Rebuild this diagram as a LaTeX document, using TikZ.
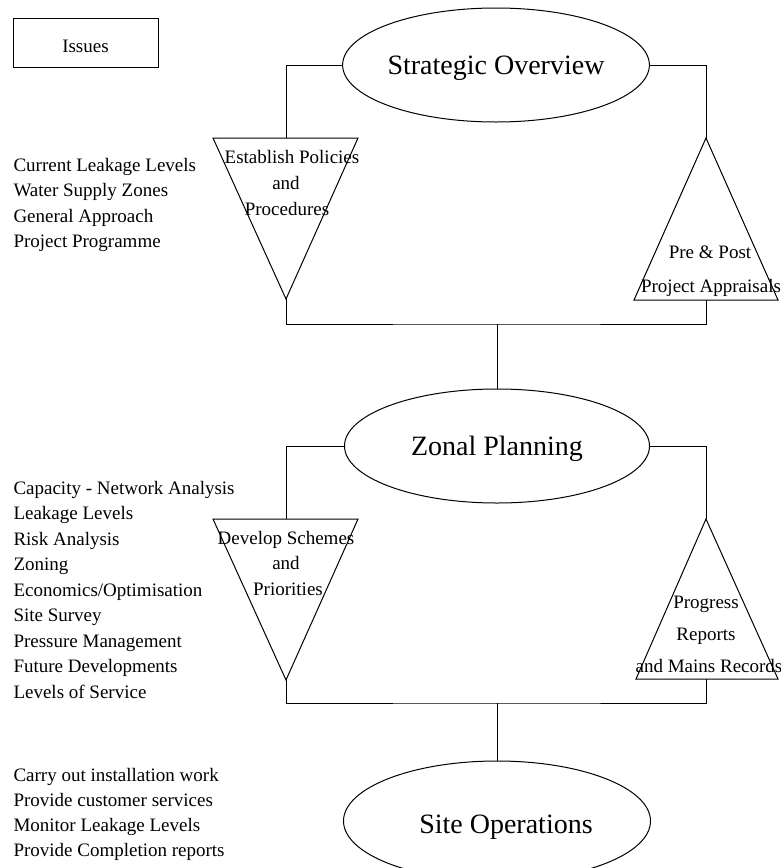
\documentclass[tikz,border=0pt]{standalone}
\usepackage{fontspec}
\setmainfont{Liberation Serif}
\usetikzlibrary{shapes.geometric}

\begin{document}
\begin{tikzpicture}[x=1pt,y=-1pt,line width=1pt,
  phase/.style={draw,ellipse,inner sep=0,minimum width=305,minimum height=114,text depth=0pt,font=\fontsize{28}{32}\selectfont},
  note/.style={anchor=base west,inner sep=0,font=\fontsize{19}{23}\selectfont},
  tritext/.style={anchor=base,inner sep=0,font=\fontsize{19}{23}\selectfont}]
			\clip (0,0) rectangle (781,868);
			\node[draw,inner sep=0,minimum width=145,minimum height=49,text height=19pt,text depth=0pt,font=\fontsize{19}{23}\selectfont] (issues) at (85.5,42.5) {Issues};
			% the three levels
			\node[phase] (so) at (496,65) {Strategic Overview};
			\node[phase] (zp) at (497,446) {Zonal Planning};
			\node[phase,minimum width=307,minimum height=120,text height=25pt] (sop) at (497,821) {\hspace*{18pt}Site Operations};
			\path
			(213,138) coordinate (A1) (358,138) coordinate (B1) (286,138) coordinate (T1) (286,299) coordinate (L1)
			(634,300) coordinate (C1) (778,300) coordinate (D1) (706,300) coordinate (R1) (706,138) coordinate (P1)
			(497,324) coordinate (bar1)
			(213,519) coordinate (A2) (358,519) coordinate (B2) (286,519) coordinate (T2) (286,680) coordinate (L2)
			(636,679) coordinate (C2) (778,679) coordinate (D2) (706,679) coordinate (R2) (706,519) coordinate (P2)
			(497,703) coordinate (bar2)
			;
			\foreach \i in {1,2} {
				\draw (A\i) -- (B\i) -- (L\i) -- cycle;
				\draw (C\i) -- (D\i) -- (P\i) -- cycle;
			}
			% connectors
			\draw (so.west) -| (T1);
			\draw (so.east) -| (P1);
			\draw (L1) |- (bar1) -| (R1);
			\draw (bar1) -- (zp.north);
			\draw (zp.west) -| (T2);
			\draw (zp.east) -| (P2);
			\draw (L2) |- (bar2) -| (R2);
			\draw (bar2) -- (sop.north);
			% triangle texts
			\node[tritext] (ep1) at (292,163) {Establish Policies};
			\node[tritext] (ep2) at (286,189) {and};
			\node[tritext] (ep3) at (287,215) {Procedures};
			\node[tritext] (pp1) at (710,258) {Pre \& Post};
			\node[tritext] (pp2) at (711,292) {Project Appraisals};
			\node[tritext] (ds1) at (286,544) {Develop Schemes};
			\node[tritext] (ds2) at (286,569.5) {and};
			\node[tritext] (ds3) at (288,595) {Priorities};
			\node[tritext] (pr1) at (706,608) {Progress};
			\node[tritext] (pr2) at (706,640) {Reports};
			\node[tritext] (pr3) at (709,672) {and Mains Records};
			% issue lists
			\foreach \t [count=\i] in {Current Leakage Levels,Water Supply Zones,General Approach,Project Programme}
				\node[note] (sa\i) at (13,{171+25.5*(\i-1)}) {\t};
			\foreach \t [count=\i] in {Capacity - Network Analysis,Leakage Levels,Risk Analysis,Zoning,Economics/Optimisation,Site Survey,Pressure Management,Future Developments,Levels of Service}
				\node[note] (za\i) at (13,{494+25.5*(\i-1)}) {\t};
			\foreach \t [count=\i] in {Carry out installation work,Provide customer services,Monitor Leakage Levels,Provide Completion reports}
				\node[note] (oa\i) at (13,{781+25*(\i-1)}) {\t};
		\end{tikzpicture}
\end{document}
